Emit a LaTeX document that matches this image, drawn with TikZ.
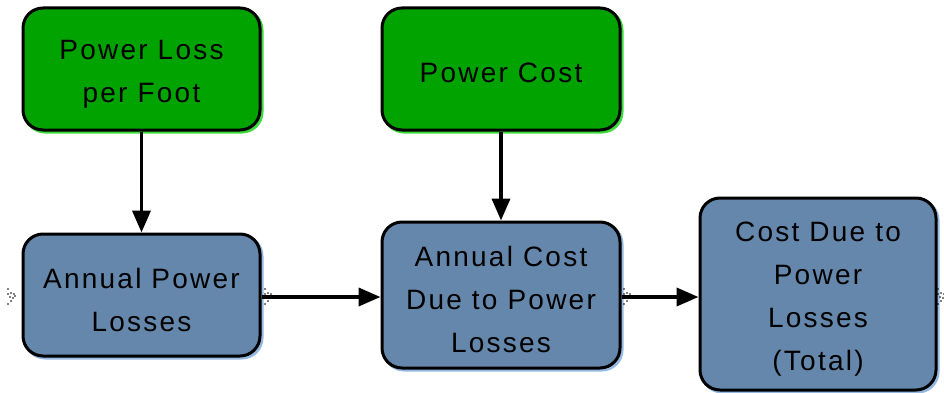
\documentclass[tikz,border=0pt]{standalone}
\usepackage{fontspec}
\usetikzlibrary{arrows.meta}
\newfontfamily\lsans[LetterSpace=8]{Liberation Sans}
\definecolor{stockgreen}{RGB}{0,163,0}
\definecolor{stockgreenlt}{RGB}{60,220,60}
\definecolor{auxblue}{RGB}{101,135,171}
\definecolor{auxbluelt}{RGB}{150,185,225}
\tikzset{
  box/.style={rectangle, rounded corners=20pt, line width=3pt, draw=black, inner sep=0pt},
  stock/.style={box, fill=stockgreen,
    preaction={draw=stockgreenlt, line width=3pt, transform canvas={shift={(2pt,-2pt)}}}},
  aux/.style={box, fill=auxblue,
    preaction={draw=auxbluelt, line width=3pt, transform canvas={shift={(2pt,-2pt)}}}},
  boxtext/.style={align=center, font=\lsans\fontsize{28}{43}\selectfont, inner sep=0pt},
  link/.style={line width=3.8pt, -{Triangle[length=22pt,width=18pt]}},
  ghostdot/.style={fill=black, inner sep=0pt, minimum size=1.6pt, circle}
}
\begin{document}
\begin{tikzpicture}[x=1pt,y=-1pt]
\useasboundingbox (0,0) rectangle (944,393);
\node[stock, minimum width=237pt, minimum height=122pt] (plf) at (141.5,69) {};
\node[stock, minimum width=238pt, minimum height=122pt] (pc) at (501,69) {};
\node[aux, minimum width=237pt, minimum height=122pt] (apl) at (141.5,295) {};
\node[aux, minimum width=238pt, minimum height=146pt] (acd) at (501,295) {};
\node[aux, minimum width=236pt, minimum height=192pt] (cdt) at (818,294) {};
\node[boxtext] (tplf) at ([yshift=-5pt]plf.center) {Power Loss\\per Foot};
\node[boxtext] (tpc) at ([yshift=-4pt]pc.center) {Power Cost};
\node[boxtext] (tapl) at ([yshift=-5pt]apl.center) {Annual Power\\Losses};
\node[boxtext] (tacd) at ([yshift=-4pt]acd.center) {Annual Cost\\Due to Power\\Losses};
\node[boxtext] (tcdt) at ([yshift=-5pt]cdt.center) {Cost Due to\\Power\\Losses\\(Total)};
\draw[link] (plf) -- (apl);
\draw[link] (pc) -- (acd);
\draw[link] (apl.east |- 0,297) -- (acd.west |- 0,297);
\draw[link] (acd.east |- 0,297) -- (cdt.west |- 0,297);
% ghost flow markers
\foreach \gx/\gn in {11/ga,268/gb,627/gc,941/gd}{
  \coordinate (\gn) at (\gx,297);
  \foreach \dx/\dy in {-3/-7,0/-4,-1/0,2/-1,4/1,-3/3,0/4,-3/8,3/3}{
    \node[ghostdot] at ([shift={(\dx pt,\dy pt)}]\gn) {};
  }
}
\end{tikzpicture}
\end{document}
